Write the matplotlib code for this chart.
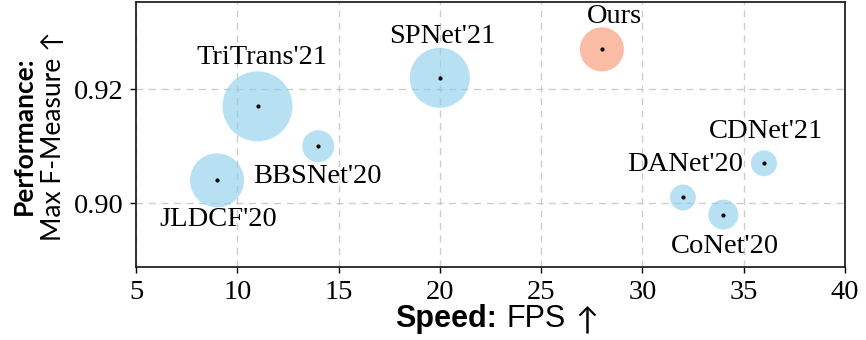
import matplotlib
matplotlib.use("Agg")
import matplotlib.pyplot as plt

# data: FPS, max F-measure, bubble area (pt^2)
names = ["JLDCF'20", "TriTrans'21", "BBSNet'20", "SPNet'21", "Ours", "CDNet'21", "DANet'20", "CoNet'20"]
fps = [9, 11, 14, 20, 28, 36, 32, 34]
fmeasure = [0.904, 0.917, 0.910, 0.922, 0.927, 0.907, 0.901, 0.898]
bubble = [1512, 2540, 531, 1866, 1004, 350, 350, 467]

# label offsets (points) from each bubble centre
label_off = [(0.7, -28), (3, 35), (-0.7, -22), (1.5, 29.5), (9.4, 23.8), (1.4, 23), (1.4, 24), (1.4, -23)]

fig = plt.figure(figsize=(8.66, 3.4), dpi=100)
ax = fig.add_axes([0.157, 0.2147, 0.8187, 0.7793])

serif = "Liberation Serif"

for i in range(len(names)):
    if names[i] == "Ours":
        col = "#f7906a" #salmon for our method
    else:
        col = "#87ceeb"
    ax.scatter(fps[i], fmeasure[i], s=bubble[i], color=col, alpha=0.6, edgecolors="none", zorder=3)
    ax.scatter(fps[i], fmeasure[i], s=4, color="black", zorder=4)
    ax.annotate(names[i], (fps[i], fmeasure[i]), xytext=label_off[i], textcoords="offset points",
                ha="center", va="center", fontsize=20.5, family=serif, zorder=5)

ax.set_xlim(5, 40)
ax.set_ylim(0.8888, 0.9353)
ax.set_xticks([5, 10, 15, 20, 25, 30, 35, 40])
ax.set_yticks([0.90, 0.92])
ax.set_yticklabels(["0.90", "0.92"])
for lab in ax.get_xticklabels() + ax.get_yticklabels():
    lab.set_family(serif)
    lab.set_fontsize(20.5)
ax.tick_params(length=4, width=1, pad=5)
ax.grid(True, linestyle=(0, (5, 4)), color="#cccccc", linewidth=1, zorder=0)
ax.set_axisbelow(True)
for sp in ax.spines.values():
    sp.set_linewidth(1.3)
    sp.set_color("#222222")

# axis labels with bold prefix
fig.text(0.574, 0.038, "Speed:", fontsize=22, weight="bold", family="Liberation Sans",
         ha="right", va="baseline")
fig.text(0.585, 0.038, "FPS", fontsize=22, family="Liberation Sans",
         ha="left", va="baseline")
fig.text(0.664, 0.030, "\u2191", fontsize=22, family=["Lato", "DejaVu Sans"],
         ha="left", va="baseline")
fig.text(0.027, 0.600, "Performance:", fontsize=19, weight="bold", family="Lato",
         rotation=90, ha="center", va="center")
fig.text(0.062, 0.600, "Max F-Measure \u2191", fontsize=19, family=["Lato", "DejaVu Sans"],
         rotation=90, ha="center", va="center")

fig.savefig("out.png", dpi=100)
